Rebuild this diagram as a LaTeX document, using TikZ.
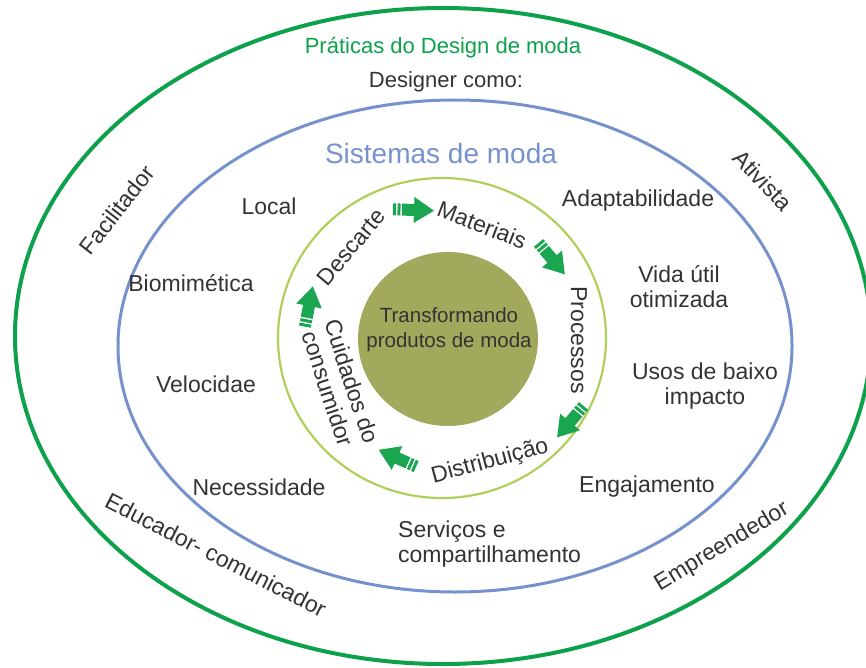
\documentclass[tikz,border=0pt]{standalone}
\usepackage{fontspec}
\setmainfont{Liberation Sans}
\definecolor{outergreen}{HTML}{0DA14B}
\definecolor{sysblue}{HTML}{7692CD}
\definecolor{ringgreen}{HTML}{AECF5A}
\definecolor{coreolive}{HTML}{A2A95C}
\definecolor{arrowgreen}{HTML}{1AA650}
\definecolor{txt}{HTML}{333333}
\tikzset{
  lbl/.style={font=\fontsize{23}{25}\selectfont, text=txt, inner sep=0pt, align=center},
  cyclearrow/.pic={
    \fill[arrowgreen] (-21,-6) rectangle (-18,6) (-16.5,-6) rectangle (-13.5,6)
      (-12,-6) -- (0,-6) -- (0,-13) -- (20,0) -- (0,13) -- (0,6) -- (-12,6) -- cycle;
  }
}
\begin{document}
\begin{tikzpicture}[x=1pt,y=-1pt]
      \useasboundingbox (0,0) rectangle (866,668);
      \draw[outergreen, line width=4] (443,336) ellipse [x radius=428, y radius=328];
      \draw[sysblue, line width=3] (455,346) ellipse [x radius=337, y radius=246];
      \draw[ringgreen, line width=2.2] (442,338) ellipse [x radius=164, y radius=160];
      \fill[coreolive] (448,339) ellipse [x radius=90, y radius=87];
      \draw
        (443,48) node[lbl, text=outergreen, font=\fontsize{22}{24}\selectfont] (prat){Práticas do Design de moda}
        (446,82) node[lbl, font=\fontsize{22}{24}\selectfont] (como){Designer como:}
        (441,153) node[lbl, text=sysblue, font=\fontsize{28}{30}\selectfont] (sist){Sistemas de moda}
        (117,210) node[lbl, rotate=52] (fac){Facilitador}
        (763,180) node[lbl, rotate=-46] (ativ){Ativista}
        (216,555) node[lbl, rotate=-27] (educ){Educador- comunicador}
        (722,547) node[lbl, rotate=31] (empr){Empreendedor};
      \draw
        (269,206) node[lbl] (local){Local}
        (638,201) node[lbl] (adapt){Adaptabilidade}
        (191,283) node[lbl] (biom){Biomimética}
        (679,287) node[lbl] (vida){Vida útil\\otimizada}
        (206,384) node[lbl] (veloc){Velocidae}
        (705,386) node[lbl] (usos){Usos de baixo\\impacto}
        (259,487) node[lbl] (nec){Necessidade}
        (647,487) node[lbl] (engaj){Engajamento}
        (398,544) node[lbl, anchor=west, align=left] (serv){Serviços e\\compartilhamento};
      \draw
        (351,247) node[lbl, rotate=50] (desc){Descarte}
        (482,225) node[lbl, rotate=-21] (mat){Materiais}
        (579,340) node[lbl, rotate=-90] (proc){Processos}
        (490,462) node[lbl, rotate=15] (dist){Distribuição}
        (340,385) node[lbl, rotate=-72] (cuid){Cuidados do\\consumidor}
        (449,330) node[lbl, text=black!80, font=\fontsize{20.5}{25}\selectfont] (core){Transformando\\produtos de moda};
      \pic[rotate=-2] at (414,210) {cyclearrow};
      \pic[rotate=-50] at (552,259) {cyclearrow};
      \pic[rotate=-130] at (570,422) {cyclearrow};
      \pic[rotate=156] at (397,458) {cyclearrow};
      \pic[rotate=79] at (309,306) {cyclearrow};
    \end{tikzpicture}
\end{document}
